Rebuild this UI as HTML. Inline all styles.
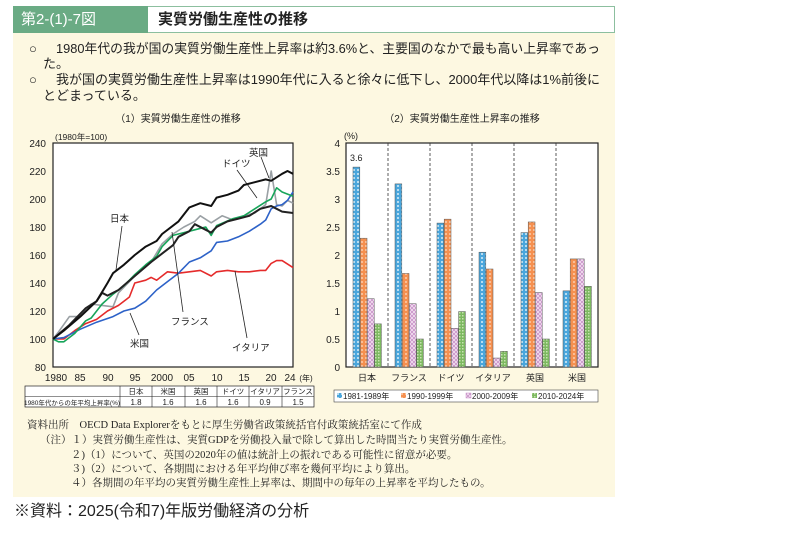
<!DOCTYPE html><html><head><meta charset="utf-8"><style>
body{margin:0;background:#fff;width:800px;height:533px;overflow:hidden;font-family:"Liberation Sans","Noto Sans CJK JP",sans-serif;position:relative}
.a{position:absolute;white-space:nowrap}
</style></head><body>
<div class="a" style="left:13px;top:33px;width:602px;height:464px;background:#fdf8e1"></div>
<div class="a" style="left:13px;top:6px;width:602px;height:27px;border:1px solid #8cbf9f;box-sizing:border-box;background:#fff"></div>
<div class="a" style="left:13px;top:6px;width:135px;height:27px;background:#6aab84;color:#fff;font-size:15px;line-height:27px;padding-left:8px;box-sizing:border-box">第2-(1)-7図</div>
<div class="a" style="left:158px;top:6px;font-size:15px;line-height:27px;font-weight:bold;color:#222">実質労働生産性の推移</div>
<svg class="a" style="left:0;top:0" width="800" height="533" font-family="Liberation Sans,Noto Sans CJK JP,sans-serif">
<style>text{fill:#222}</style>
<g font-size="13">
<text x="29" y="53">○</text><text x="56" y="53" textLength="544" lengthAdjust="spacingAndGlyphs">1980年代の我が国の実質労働生産性上昇率は約3.6%と、主要国のなかで最も高い上昇率であっ</text>
<text x="43" y="68">た。</text>
<text x="29" y="84">○</text><text x="56" y="84" textLength="544" lengthAdjust="spacingAndGlyphs">我が国の実質労働生産性上昇率は1990年代に入ると徐々に低下し、2000年代以降は1%前後に</text>
<text x="43" y="100">とどまっている。</text></g>
<defs>
<pattern id="p1" width="4" height="4" patternUnits="userSpaceOnUse"><rect width="4" height="4" fill="#4aa6dc"/><circle cx="2" cy="2" r="1" fill="#d8eef8"/></pattern>
<pattern id="p2" width="4" height="4" patternUnits="userSpaceOnUse"><rect width="4" height="4" fill="#f59050"/><circle cx="2" cy="2" r="0.9" fill="#fde0c8"/></pattern>
<pattern id="p3" width="4" height="4" patternUnits="userSpaceOnUse"><rect width="4" height="4" fill="#f4e4f2"/><path d="M0 0L4 4M4 0L0 4" stroke="#c890c8" stroke-width="0.8"/></pattern>
<pattern id="p4" width="3" height="3" patternUnits="userSpaceOnUse"><rect width="3" height="3" fill="#7cb860"/><rect width="1.5" height="1.5" fill="#c8e4b0"/></pattern>
</defs>
<text x="178" y="122" font-size="10" text-anchor="middle">（1）実質労働生産性の推移</text>
<text x="462" y="122" font-size="10" text-anchor="middle">（2）実質労働生産性上昇率の推移</text>
<rect x="53" y="143" width="240" height="224" fill="#fff" stroke="#222" stroke-width="1.2"/>
<text x="55" y="140" font-size="8.5">(1980年=100)</text>
<g font-size="10" text-anchor="end">
<text x="46" y="147">240</text><text x="46" y="175">220</text><text x="46" y="203">200</text><text x="46" y="231">180</text><text x="46" y="259">160</text><text x="46" y="287">140</text><text x="46" y="315">120</text><text x="46" y="343">100</text><text x="46" y="371">80</text></g>
<g font-size="10" text-anchor="middle">
<text x="56" y="381">1980</text><text x="80" y="381">85</text><text x="108" y="381">90</text><text x="135" y="381">95</text><text x="162" y="381">2000</text><text x="189" y="381">05</text><text x="217" y="381">10</text><text x="244" y="381">15</text><text x="271" y="381">20</text><text x="290" y="381">24</text><text x="306" y="381" font-size="8">(年)</text></g>
<g fill="none" stroke-width="1.6" stroke-linejoin="round" id="lines"></g>
<g stroke="#222" stroke-width="0.8" fill="none">
<path d="M122 226L116 270"/><path d="M237 170L257 198"/><path d="M261 157L269 178"/><path d="M183 312L172 232"/><path d="M139 335L130 313"/><path d="M247 338L235 271"/></g>
<g font-size="9.5">
<text x="110" y="222">日本</text><text x="222" y="167">ドイツ</text><text x="249" y="156">英国</text><text x="171" y="325">フランス</text><text x="130" y="347">米国</text><text x="232" y="351">イタリア</text></g>
<g stroke="#222" stroke-width="0.7" fill="#fff"><rect x="25" y="386" width="289" height="21"/></g>
<g stroke="#222" stroke-width="0.6"><path d="M25 396.5H314M120 386V407M152 386V407M185 386V407M217 386V407M249 386V407M282 386V407"/></g>
<g font-size="7.5" text-anchor="middle"><text x="136" y="394">日本</text><text x="168" y="394">米国</text><text x="201" y="394">英国</text><text x="233" y="394">ドイツ</text><text x="265" y="394">イタリア</text><text x="298" y="394">フランス</text>
<text x="72" y="405" font-size="6.5">1980年代からの年平均上昇率(%)</text>
<text x="136" y="405" font-size="8">1.8</text><text x="168" y="405" font-size="8">1.6</text><text x="201" y="405" font-size="8">1.6</text><text x="233" y="405" font-size="8">1.6</text><text x="265" y="405" font-size="8">0.9</text><text x="298" y="405" font-size="8">1.5</text></g>
<rect x="346" y="143" width="252" height="224" fill="#fff" stroke="#222" stroke-width="1.2"/>
<text x="344" y="139" font-size="9">(%)</text>
<g font-size="10" text-anchor="end"><text x="340" y="147">4</text><text x="340" y="175">3.5</text><text x="340" y="203">3</text><text x="340" y="231">2.5</text><text x="340" y="259">2</text><text x="340" y="287">1.5</text><text x="340" y="315">1</text><text x="340" y="343">0.5</text><text x="340" y="371">0</text></g>
<g stroke="#333" stroke-dasharray="3,2" stroke-width="0.8"><path d="M388 143V367M430 143V367M472 143V367M514 143V367M556 143V367"/></g>
<g id="bars" stroke="#555" stroke-width="0.5"></g>
<text x="350" y="161" font-size="9">3.6</text>
<g font-size="9" text-anchor="middle"><text x="367" y="381">日本</text><text x="409" y="381">フランス</text><text x="451" y="381">ドイツ</text><text x="493" y="381">イタリア</text><text x="535" y="381">英国</text><text x="577" y="381">米国</text></g>
<rect x="334" y="390" width="264" height="12" fill="#fff" stroke="#444" stroke-width="0.6"/>
<g font-size="8"><rect x="337" y="393" width="5" height="5" fill="url(#p1)"/><text x="343" y="399">1981-1989年</text>
<rect x="401" y="393" width="5" height="5" fill="url(#p2)"/><text x="407" y="399">1990-1999年</text>
<rect x="466" y="393" width="5" height="5" fill="url(#p3)" stroke="#c890c8" stroke-width=".5"/><text x="472" y="399">2000-2009年</text>
<rect x="532" y="393" width="5" height="5" fill="url(#p4)"/><text x="538" y="399">2010-2024年</text></g>
<g font-family="Liberation Serif,Noto Serif CJK SC,serif" font-size="10.5">
<text x="27" y="428">資料出所　OECD Data Explorerをもとに厚生労働省政策統括官付政策統括室にて作成</text>
<text x="40" y="443">（注）１）実質労働生産性は、実質GDPを労働投入量で除して算出した時間当たり実質労働生産性。</text>
<text x="71" y="458">２)（1）について、英国の2020年の値は統計上の振れである可能性に留意が必要。</text>
<text x="71" y="472">３)（2）について、各期間における年平均伸び率を幾何平均により算出。</text>
<text x="71" y="486">４）各期間の年平均の実質労働生産性上昇率は、期間中の毎年の上昇率を平均したもの。</text></g>
<text x="14" y="516" font-size="16">※資料：2025(令和7)年版労働経済の分析</text>
</svg>
<script>
var S=[
["#9aa0a4",[[1980,100],[1981,105],[1983,116],[1985,116],[1987,125],[1989,124],[1991,123],[1992,133],[1995,145],[1998,155],[2000,168],[2002,175],[2004,180],[2006,184],[2007,188],[2009,183],[2011,188],[2013,185],[2015,188],[2017,190],[2019,196],[2020,220],[2021,196],[2022,195],[2023,199],[2024,197]]],
["#e52b2b",[[1980,100],[1982,100],[1984,106],[1986,111],[1988,114],[1990,120],[1992,124],[1994,130],[1995,140],[1997,142],[1998,144],[1999,142],[2001,148],[2003,147],[2005,148],[2007,149],[2009,145],[2010,148],[2012,149],[2014,148],[2016,148],[2018,149],[2019,149],[2020,154],[2021,156],[2022,156],[2024,151]]],
["#2d62c8",[[1980,100],[1982,101],[1985,107],[1988,112],[1991,116],[1993,120],[1995,122],[1997,127],[1999,135],[2001,141],[2003,147],[2005,155],[2007,158],[2009,163],[2010,169],[2012,170],[2014,173],[2016,177],[2018,182],[2019,185],[2020,193],[2021,195],[2022,196],[2023,199],[2024,205]]],
["#18a55a",[[1980,100],[1981,98],[1982,98],[1984,104],[1986,113],[1987,115],[1989,125],[1991,132],[1993,138],[1995,146],[1997,153],[1999,159],[2000,166],[2002,174],[2004,176],[2006,178],[2008,180],[2009,174],[2010,181],[2013,186],[2015,188],[2017,193],[2019,198],[2020,200],[2021,208],[2022,205],[2024,202]]],
["#222",[[1980,100],[1983,110],[1986,122],[1988,127],[1989,133],[1990,131],[1992,135],[1995,145],[1998,155],[2000,161],[2002,167],[2003,173],[2005,177],[2006,182],[2008,178],[2009,176],[2010,180],[2012,184],[2014,186],[2016,188],[2018,193],[2020,195],[2021,193],[2022,191],[2024,190]]],
["#111",[[1980,100],[1982,106],[1985,116],[1988,127],[1990,140],[1991,147],[1993,153],[1995,160],[1997,166],[1999,170],[2000,175],[2003,184],[2005,194],[2007,197],[2009,195],[2010,201],[2012,203],[2014,206],[2015,210],[2017,212],[2019,214],[2020,213],[2022,218],[2023,220],[2024,218]]]];
var ns="http://www.w3.org/2000/svg",g=document.getElementById("lines");
S.forEach(function(s,i){var p=document.createElementNS(ns,"polyline");p.setAttribute("points",s[1].map(function(d){return (53+(d[0]-1980)*240/44).toFixed(1)+","+(367-(d[1]-80)*1.4).toFixed(1)}).join(" "));p.setAttribute("stroke",s[0]);if(i>=4)p.setAttribute("stroke-width","2");g.appendChild(p)});
var B=[[3.57,2.3,1.22,0.77],[3.27,1.67,1.13,0.5],[2.57,2.64,0.69,0.99],[2.05,1.75,0.16,0.28],[2.4,2.59,1.33,0.5],[1.36,1.93,1.93,1.44]],b=document.getElementById("bars");
B.forEach(function(r,gi){r.forEach(function(v,k){var e=document.createElementNS(ns,"rect");e.setAttribute("x",346+gi*42+7+k*7.2);e.setAttribute("width",6.8);e.setAttribute("y",367-v*56);e.setAttribute("height",v*56);e.setAttribute("fill","url(#p"+(k+1)+")");b.appendChild(e)})});
</script>
</body></html>
